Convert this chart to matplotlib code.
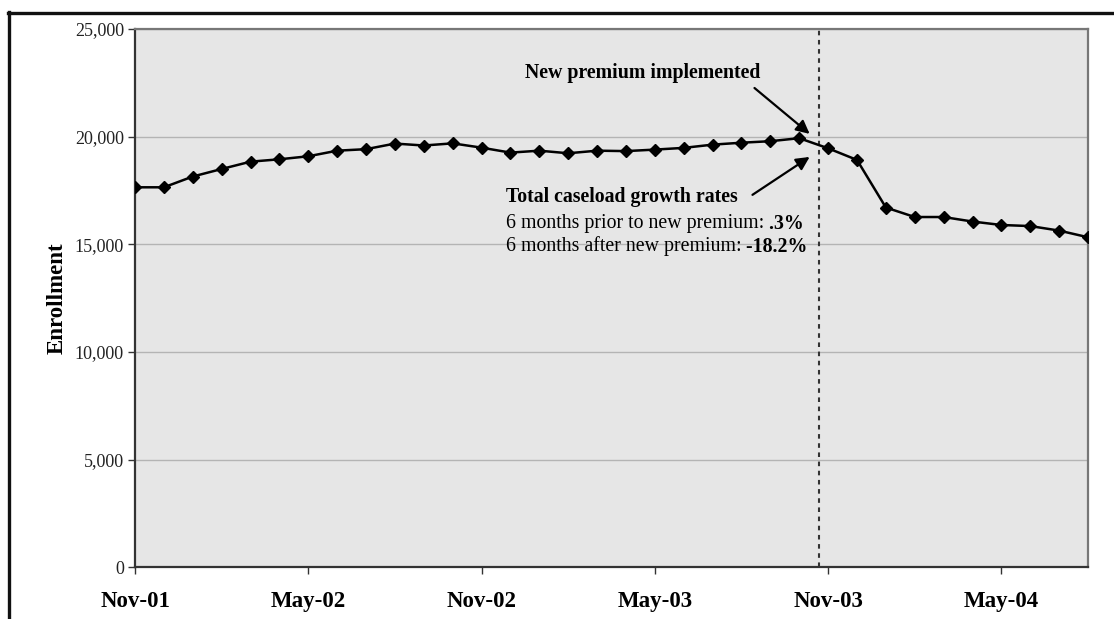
import matplotlib
matplotlib.use("Agg")
import matplotlib.pyplot as plt
from matplotlib.lines import Line2D

# Monthly enrollment, Nov-01 through Aug-04
months = ["Nov-01", "Dec-01", "Jan-02", "Feb-02", "Mar-02", "Apr-02", "May-02",
          "Jun-02", "Jul-02", "Aug-02", "Sep-02", "Oct-02", "Nov-02", "Dec-02",
          "Jan-03", "Feb-03", "Mar-03", "Apr-03", "May-03", "Jun-03", "Jul-03",
          "Aug-03", "Sep-03", "Oct-03", "Nov-03", "Dec-03", "Jan-04", "Feb-04",
          "Mar-04", "Apr-04", "May-04", "Jun-04", "Jul-04", "Aug-04"]
enrollment = [17650, 17650, 18150, 18500, 18840, 18950, 19090,
              19350, 19420, 19680, 19590, 19690, 19490, 19260,
              19350, 19230, 19350, 19330, 19400, 19480, 19630,
              19720, 19790, 19930, 19460, 18920, 16710, 16270,
              16270, 16060, 15900, 15850, 15640, 15330]

tick_labels = ["Nov-01", "May-02", "Nov-02", "May-03", "Nov-03", "May-04"]
y_ticks = [0, 5000, 10000, 15000, 20000, 25000]
premium_start = 23.7  # new premium took effect late Oct-03
growth_prior = ".3%"
growth_after = "-18.2%"

plt.rcParams["font.family"] = ["Liberation Serif", "DejaVu Serif"]

fig = plt.figure(figsize=(11.14, 6.19), dpi=100)
ax = fig.add_axes([0.1212, 0.0832, 0.8555, 0.8700])

x = list(range(len(months)))
ax.set_facecolor("#e6e6e6")
ax.plot(x, enrollment, color="black", linewidth=1.8, marker="D",
        markersize=6.5, markerfacecolor="black", markeredgecolor="black",
        zorder=3)

ax.set_xlim(0, len(months) - 1)
ax.set_ylim(0, 25000)

ax.set_yticks(y_ticks)
ax.set_yticklabels([f"{v:,}" for v in y_ticks], fontsize=13, color="#222222")
ax.yaxis.grid(True, color="#b4b4b4", linewidth=1.0)
ax.set_axisbelow(True)

tick_pos = [months.index(t) for t in tick_labels]
ax.set_xticks(tick_pos)
ax.set_xticklabels(tick_labels, fontsize=16.5, fontweight="bold")
ax.tick_params(axis="x", length=5, width=1, pad=12, color="#333333")
ax.tick_params(axis="y", length=5, width=1, pad=3, color="#333333")

ax.set_ylabel("Enrollment", fontsize=16.5, fontweight="bold", labelpad=5)

for side in ("left", "bottom"):
    ax.spines[side].set_color("#333333")
    ax.spines[side].set_linewidth(1.6)
for side in ("top", "right"):
    ax.spines[side].set_color("#777777")
    ax.spines[side].set_linewidth(1.6)

# Premium implementation marker
ax.axvline(premium_start, color="#333333", linestyle=(0, (2.2, 2.2)),
           linewidth=1.5, zorder=2)

arrow_style = dict(arrowstyle="-|>", color="black", lw=1.6,
                   mutation_scale=20, shrinkA=0, shrinkB=0)
ax.annotate("", xy=(23.36, 20130), xytext=(21.45, 22260),
            arrowprops=arrow_style)
ax.annotate("", xy=(23.36, 19060), xytext=(21.38, 17300),
            arrowprops=arrow_style)

ax.text(13.5, 22960, "New premium implemented", fontsize=14.3,
        fontweight="bold", ha="left", va="center")
ax.text(12.84, 17220, "Total caseload growth rates", fontsize=14.3,
        fontweight="bold", ha="left", va="center")

line2 = ax.text(12.84, 15950, "6 months prior to new premium:", fontsize=14.3,
                ha="left", va="center")
line3 = ax.text(12.84, 14900, "6 months after new premium:", fontsize=14.3,
                ha="left", va="center")
ax.annotate(" " + growth_prior, xy=(1, 0.5), xycoords=line2, fontsize=14.3,
            fontweight="bold", ha="left", va="center")
ax.annotate(" " + growth_after, xy=(1, 0.5), xycoords=line3, fontsize=14.3,
            fontweight="bold", ha="left", va="center")

# Frame around the figure (top and left edges)
fig.add_artist(Line2D([8 / 1114, 1.0], [1 - 12.5 / 619, 1 - 12.5 / 619],
                      color="#111111", linewidth=2.4,
                      transform=fig.transFigure))
fig.add_artist(Line2D([9 / 1114, 9 / 1114], [0.0, 1 - 11.5 / 619],
                      color="#111111", linewidth=2.4,
                      transform=fig.transFigure))

fig.savefig("out.png", dpi=100, facecolor="white")
